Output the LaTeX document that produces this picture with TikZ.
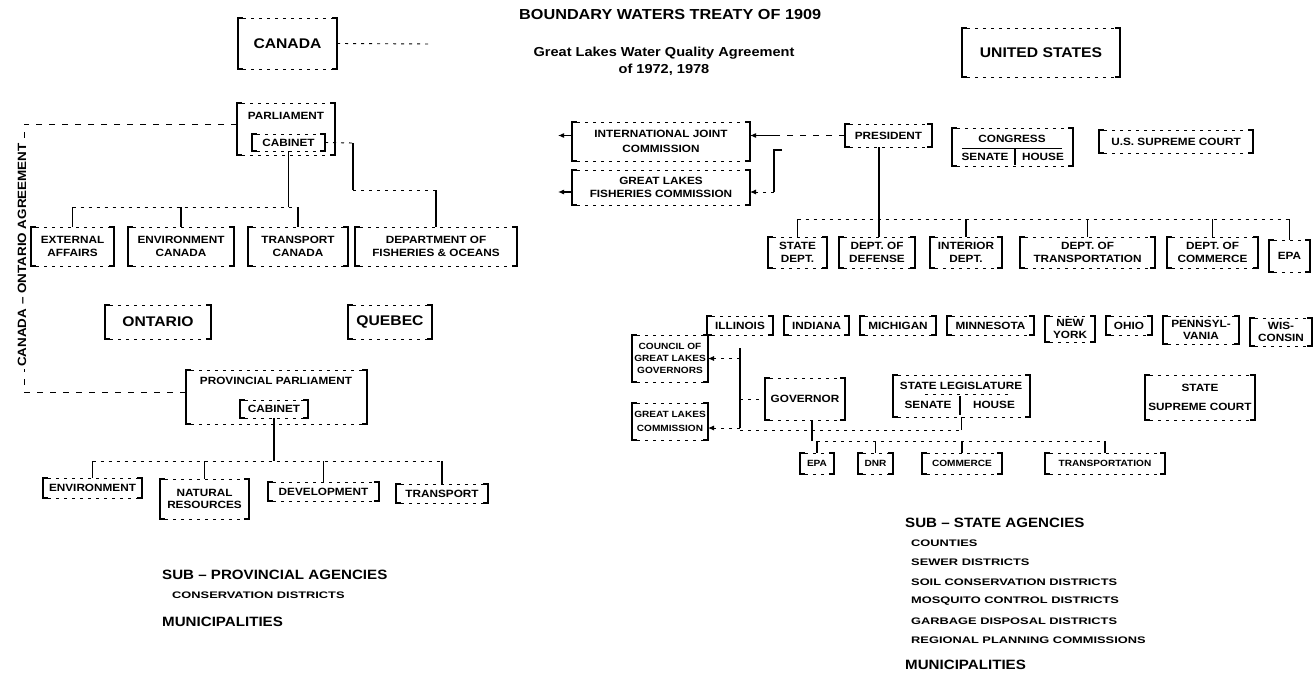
\documentclass[tikz,border=0pt]{standalone}
\usepackage{fontspec}
\newfontfamily\hv{Liberation Sans}[FakeStretch=1.12]
\newfontfamily\hw{Liberation Sans}[FakeStretch=1.35]
\usetikzlibrary{arrows.meta,calc}
\newcommand\fSm{\hv\bfseries\fontsize{10.5}{12.5}\selectfont}
\newcommand\fTn{\hv\bfseries\fontsize{9}{12}\selectfont}
\newcommand\fTw{\hw\bfseries\fontsize{9.5}{11}\selectfont}
\newcommand\fLg{\hv\bfseries\fontsize{14}{16}\selectfont}
\newcommand\fHd{\hv\bfseries\fontsize{13.5}{16}\selectfont}
\newcommand\fMd{\hv\bfseries\fontsize{13}{17}\selectfont}
\newcommand\fAg{\hv\bfseries\fontsize{12}{14}\selectfont}
\newcommand\fTitle{\hv\bfseries\fontsize{14.5}{17}\selectfont}
\tikzset{
  boxn/.style={inner sep=0pt, outer sep=0pt, align=center, font=\fSm},
  bside/.style={line width=1.1pt},
  bedge/.style={line width=0.7pt, dash pattern=on 3pt off 5pt},
  conn/.style={line width=1.1pt},
  dotc/.style={line width=0.9pt, dash pattern=on 3pt off 5pt},
  dconn/.style={line width=1pt, dash pattern=on 6pt off 7pt},
  arr/.style={-{Latex[length=6pt,width=5pt]}},
  lbl/.style={inner sep=0pt, font=\fSm},
}
\newcommand\mkbox[7][]{%
  \node[boxn, #1, minimum width={(#5-#3)*1pt}, minimum height={(#6-#4)*1pt}] (#2) at ({(#3+#5)/2},{(#4+#6)/2}) {#7};
  \draw[bside] ([xshift=5pt]#2.north west) -- (#2.north west) -- (#2.south west) -- ([xshift=5pt]#2.south west);
  \draw[bside] ([xshift=-5pt]#2.north east) -- (#2.north east) -- (#2.south east) -- ([xshift=-5pt]#2.south east);
  \draw[bedge] ([xshift=5pt]#2.north west) -- ([xshift=-5pt]#2.north east) ([xshift=5pt]#2.south west) -- ([xshift=-5pt]#2.south east);
}
\begin{document}
\begin{tikzpicture}[x=1pt,y=-1pt]
\useasboundingbox (0,0) rectangle (1316,677);

% ---------------- CANADA side ----------------
\mkbox[font=\fLg]{canada}{238}{18}{337}{69}{CANADA}
\coordinate (cdots) at (432,44);
\draw[dotc] (canada.east) -- (cdots);

\mkbox{parl}{237}{103}{335}{155}{}
\node[lbl] (parltxt) at (286,116) {PARLIAMENT};
\mkbox{cab}{252}{134}{325}{151}{CABINET}

\mkbox{ext}{31}{227}{114}{266}{EXTERNAL\\AFFAIRS}
\mkbox{env}{128}{227}{234}{266}{ENVIRONMENT\\CANADA}
\mkbox{trc}{248}{227}{348}{266}{TRANSPORT\\CANADA}
\mkbox{fish}{355}{227}{517}{266}{DEPARTMENT OF\\FISHERIES \& OCEANS}

\coordinate (cbus) at (0,207);
\draw[conn] (cab.south) -- (cab.south |- cbus);
\draw[dotc] (ext.north |- cbus) -- (trc.north |- cbus);
\foreach \nm in {ext,env,trc} \draw[conn] (\nm.north |- cbus) -- (\nm.north);
\coordinate (cr1) at (353,143);
\coordinate (cr2) at (353,190);
\draw[dotc] (cab.east) -- (cr1);
\draw[conn] (cr1) -- (cr2);
\draw[dotc] (cr2) -- (cr2 -| fish.north);
\draw[conn] (cr2 -| fish.north) -- (fish.north);

\mkbox[font=\fLg]{ont}{105}{305}{211}{339}{ONTARIO}
\mkbox[font=\fLg]{que}{348}{305}{432}{339}{QUEBEC}

\mkbox{prov}{186}{370}{367}{424}{}
\node[lbl] (provtxt) at (276,381) {PROVINCIAL PARLIAMENT};
\mkbox{pcab}{240}{400}{308}{418}{CABINET}

\coordinate (ag1) at (24,124);
\coordinate (ag2) at (24,392);
\draw[dconn] (ag1 -| parl.west) -- (ag1) -- (ag2) -- (ag2 -| prov.west);
\node[rotate=90, fill=white, inner sep=2pt, font=\fAg] (agtxt) at (22,255) {CANADA – ONTARIO AGREEMENT};

\mkbox{penv}{43}{478}{142}{498}{ENVIRONMENT}
\mkbox{pnat}{160}{479}{249}{519}{NATURAL\\RESOURCES}
\mkbox{pdev}{268}{482}{379}{501}{DEVELOPMENT}
\mkbox{ptr}{396}{484}{488}{503}{TRANSPORT}
\coordinate (pbus) at (0,461);
\draw[conn] (pcab.south) -- (pcab.south |- pbus);
\draw[dotc] (penv.north |- pbus) -- (ptr.north |- pbus);
\foreach \nm in {penv,pnat,pdev,ptr} \draw[conn] (\nm.north |- pbus) -- (\nm.north);

\node[anchor=west, inner sep=0pt, font=\fHd] (subp) at (162,575) {SUB – PROVINCIAL AGENCIES};
\node[anchor=west, inner sep=0pt, font=\fTw] (consd) at (172,595) {CONSERVATION DISTRICTS};
\node[anchor=west, inner sep=0pt, font=\fHd] (munp) at (162,622) {MUNICIPALITIES};

% ---------------- centre titles ----------------
\node[anchor=west, inner sep=0pt, font=\fTitle] (title) at (519,15) {BOUNDARY WATERS TREATY OF 1909};
\node[align=center, inner sep=0pt, font=\fMd] (glwqa) at (664,61) {Great Lakes Water Quality Agreement\\of 1972, 1978};

% ---------------- UNITED STATES side ----------------
\mkbox[font=\fLg]{us}{962}{28}{1120}{77}{UNITED STATES}

\mkbox{ijc}{572}{122}{750}{161}{INTERNATIONAL JOINT\\[2pt]COMMISSION}
\mkbox{glfc}{572}{170}{750}{205}{GREAT LAKES\\FISHERIES COMMISSION}
\mkbox{pres}{845}{124}{932}{147}{PRESIDENT}
\coordinate (jn) at (774,135.5);
\draw[dconn] (pres.west) -- (jn);
\draw[conn,arr] (jn) -- (jn -| ijc.east);
\draw[conn,arr] (ijc.west |- jn) -- ++(-14,0);
\coordinate (jt) at (774,150);
\coordinate (jb) at (774,192);
\draw[conn] ([xshift=8pt]jt) -- (jt) -- (jb);
\draw[dotc,arr] (jb) -- (jb -| glfc.east);
\draw[conn,arr] (glfc.west |- jb) -- ++(-14,0);

\mkbox{cong}{952}{128}{1073}{166}{}
\node[lbl] (congt) at (1012,139) {CONGRESS};
\draw[conn,line width=0.8pt] (962,148) -- (1062,148);
\node[lbl] (sen) at (985,157) {SENATE};
\node[lbl] (hou) at (1043,157) {HOUSE};
\draw[conn] (1015,148) -- (1015,165);

\mkbox{usc}{1099}{130}{1253}{153}{U.S. SUPREME COURT}

\mkbox{sdept}{768}{237}{827}{268}{STATE\\DEPT.}
\mkbox{dod}{839}{237}{915}{268}{DEPT. OF\\DEFENSE}
\mkbox{dint}{930}{237}{1002}{268}{INTERIOR\\DEPT.}
\mkbox{dtr}{1020}{237}{1155}{268}{DEPT. OF\\TRANSPORTATION}
\mkbox{dcom}{1167}{237}{1258}{268}{DEPT. OF\\COMMERCE}
\mkbox{depa}{1269}{240}{1310}{272}{EPA}
\coordinate (pl) at (879,219);
\draw[conn] (pres.south -| pl) -- (pl |- dod.north);
\draw[dotc] (sdept.north |- pl) -- (depa.north |- pl);
\foreach \nm in {sdept,dint,dtr,dcom,depa} \draw[conn] (\nm.north |- pl) -- (\nm.north);

% states
\mkbox{ill}{707}{316}{773}{335}{ILLINOIS}
\mkbox{ind}{784}{316}{849}{335}{INDIANA}
\mkbox{mic}{860}{316}{936}{335}{MICHIGAN}
\mkbox{min}{947}{316}{1034}{335}{MINNESOTA}
\mkbox{ny}{1045}{316}{1095}{342}{NEW\\YORK}
\mkbox{ohio}{1106}{316}{1152}{335}{OHIO}
\mkbox{pen}{1163}{316}{1239}{344}{PENNSYL-\\VANIA}
\mkbox{wis}{1250}{318}{1312}{346}{WIS-\\CONSIN}

\mkbox[font=\fTn]{council}{632}{335}{708}{382}{COUNCIL OF\\GREAT LAKES\\GOVERNORS}
\mkbox[font=\fTn]{glc}{632}{403}{708}{440}{GREAT LAKES\\[2pt]COMMISSION}
\coordinate (vt) at (740,348);
\coordinate (vb) at (740,428);
\draw[conn] (vt) -- (vb);
\draw[dotc,arr] (vt |- council.east) -- (council.east);
\draw[dotc,arr] (vb) -- (vb -| glc.east);

\mkbox{gov}{765}{378}{845}{420}{GOVERNOR}
\draw[dotc] (gov.west -| vt) -- (gov.west);

\mkbox{sleg}{893}{375}{1030}{417}{}
\node[lbl] (slegt) at (961,386) {STATE LEGISLATURE};
\draw[dotc] (925,394) -- (1012,394);
\node[lbl] (ssen) at (928,405) {SENATE};
\node[lbl] (shou) at (994,405) {HOUSE};
\draw[conn] (960,396) -- (960,415);

\mkbox{ssc}{1145}{375}{1255}{420}{STATE\\[6pt]SUPREME COURT}

\coordinate (sbl) at (740,430);
\coordinate (sbr) at (sleg.south |- sbl);
\draw[dotc] (sbl) -- (sbr);
\draw[conn] (sbr) -- (sleg.south);
\coordinate (gd) at (812,441);
\draw[conn] (gov.south -| gd) -- (gd);

\mkbox[font=\fTn]{aepa}{800}{453}{834}{474}{EPA}
\mkbox[font=\fTn]{adnr}{858}{453}{893}{474}{DNR}
\mkbox[font=\fTn]{acom}{922}{453}{1002}{474}{COMMERCE}
\mkbox[font=\fTn]{atr}{1045}{453}{1165}{474}{TRANSPORTATION}
\draw[dotc] (aepa.north |- gd) -- (atr.north |- gd);
\foreach \nm in {aepa,adnr,acom,atr} \draw[conn] (\nm.north |- gd) -- (\nm.north);

\node[anchor=west, inner sep=0pt, font=\fHd] (subs) at (905,523) {SUB – STATE AGENCIES};
\node[anchor=west, inner sep=0pt, font=\fTw] (l1) at (911,543) {COUNTIES};
\node[anchor=west, inner sep=0pt, font=\fTw] (l2) at (911,562) {SEWER DISTRICTS};
\node[anchor=west, inner sep=0pt, font=\fTw] (l3) at (911,582) {SOIL CONSERVATION DISTRICTS};
\node[anchor=west, inner sep=0pt, font=\fTw] (l4) at (911,601) {MOSQUITO CONTROL DISTRICTS};
\node[anchor=west, inner sep=0pt, font=\fTw] (l5) at (911,621) {GARBAGE DISPOSAL DISTRICTS};
\node[anchor=west, inner sep=0pt, font=\fTw] (l6) at (911,640) {REGIONAL PLANNING COMMISSIONS};
\node[anchor=west, inner sep=0pt, font=\fHd] (muns) at (905,665) {MUNICIPALITIES};
\end{tikzpicture}
\end{document}
